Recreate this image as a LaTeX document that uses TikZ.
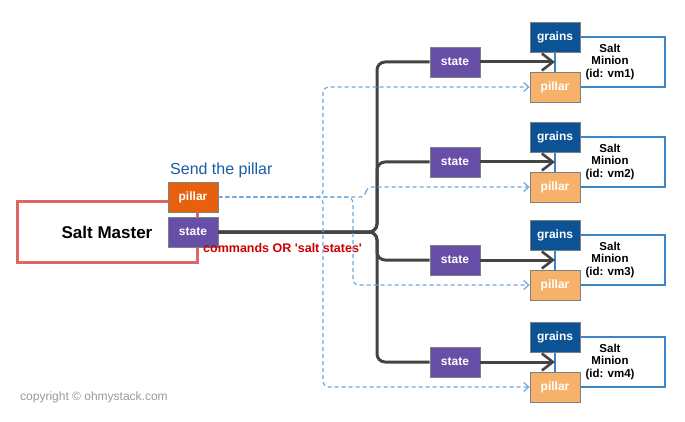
\documentclass[tikz,border=0pt]{standalone}
\usepackage{fontspec}
\setmainfont{Liberation Sans}
\usetikzlibrary{arrows.meta}
\definecolor{masterred}{HTML}{E06666}
\definecolor{mpilorange}{HTML}{E6600E}
\definecolor{statepurple}{HTML}{674EA7}
\definecolor{grainblue}{HTML}{0B5394}
\definecolor{pilorange}{HTML}{F6B26B}
\definecolor{minblue}{HTML}{3D85C6}
\definecolor{pilblue}{HTML}{6FA8DC}
\definecolor{cmdgray}{HTML}{444444}
\definecolor{cmdred}{HTML}{CC0000}
\definecolor{sendblue}{HTML}{1A5CA8}
\definecolor{boxgray}{HTML}{808080}

\begin{document}
\begin{tikzpicture}[x=1pt,y=-1pt,
		lbl/.style={draw=boxgray,line width=.8pt,minimum width=50pt,minimum height=30pt,inner sep=0pt,text=white,font=\fontsize{12}{14}\selectfont\bfseries},
		cmd/.style={draw=cmdgray,line width=3pt,rounded corners=8pt},
		pil/.style={draw=pilblue,line width=1.2pt,dash pattern=on 4pt off 3pt,rounded corners=6pt,-{Straight Barb[length=5pt,width=9pt]}},
		minion/.style={draw=minblue,line width=1.8pt,outer sep=0pt,minimum width=110pt,minimum height=50pt,align=center,font=\fontsize{11.5}{12.5}\selectfont\bfseries}]
		\useasboundingbox (0,0) rectangle (685,422);
		\node[draw=masterred,line width=3pt,minimum width=180pt,minimum height=60pt,font=\fontsize{17}{20}\selectfont\bfseries] (master) at (107,232) {Salt Master};
		\node[lbl,fill=mpilorange] (mpillar) at (193,197) {pillar};
		\node[lbl,fill=statepurple] (mstate) at (193,232) {state};
		\node[anchor=base west,inner sep=0pt,text=sendblue,font=\fontsize{16}{18}\selectfont] (sendtxt) at (170,175) {Send the pillar};
		\node[anchor=base west,inner sep=0pt,text=cmdred,font=\fontsize{12.5}{14}\selectfont\bfseries] (cmdtxt) at (203,252) {commands OR \textquotesingle salt states\textquotesingle};
		\node[anchor=base west,inner sep=0pt,text=black!40,font=\fontsize{12}{14}\selectfont] (copytxt) at (20,400) {copyright \textcopyright\ ohmystack.com};
		\coordinate (trunk) at (377,232);
		\coordinate (dA) at (323,197);
		\coordinate (dB) at (353,197);
		\coordinate (dC) at (366,197);
		% minions
		\foreach \i/\y in {1/62,2/162,3/260,4/362}{
			\node[minion] (min\i) at (610,\y) {Salt\\Minion\\(id: vm\i)};
			\node[lbl,fill=grainblue] (gr\i) at (min\i.north west) {grains};
			\node[lbl,fill=pilorange] (pil\i) at (min\i.south west) {pillar};
			\node[lbl,fill=statepurple] (st\i) at (455,\y) {state};
			\draw[cmd] (mstate.east) -- (trunk) |- (st\i.west);
			\draw[cmd,-{Straight Barb[length=11pt,width=17pt,line width=2.6pt]}] (st\i.east) -- (min\i.west);
		}
		% pillar data
		\draw[pil] (mpillar.east) -- (dA) |- (pil1.west);
		\draw[pil] (mpillar.east) -- (dC) |- (pil2.west);
		\draw[pil] (mpillar.east) -- (dB) |- (pil3.west);
		\draw[pil] (mpillar.east) -- (dA) |- (pil4.west);
	\end{tikzpicture}
\end{document}
